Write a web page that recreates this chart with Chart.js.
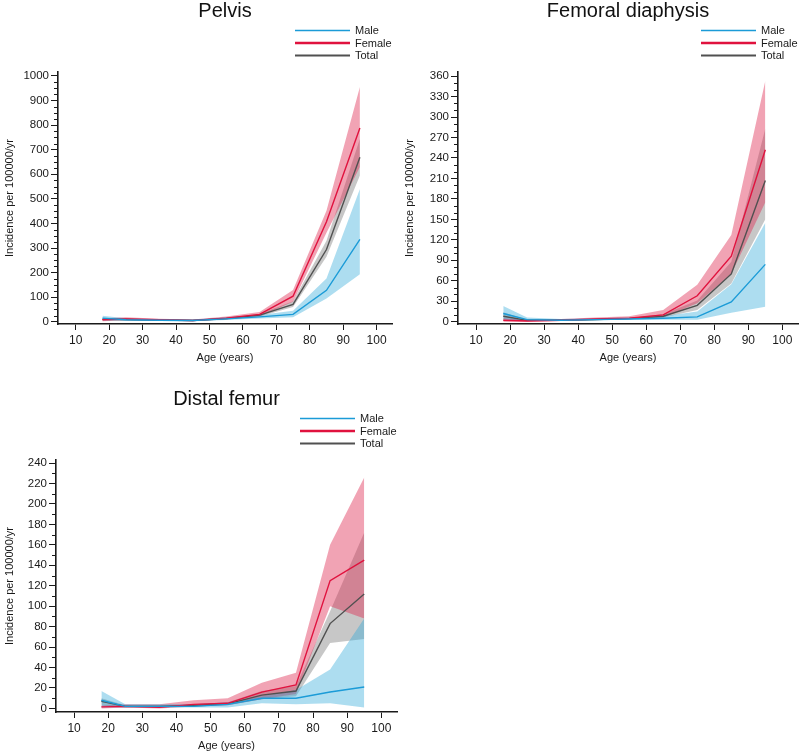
<!DOCTYPE html>
<html>
<head>
<meta charset="utf-8">
<script src="https://cdn.jsdelivr.net/npm/chart.js@4.4.1/dist/chart.umd.min.js"></script>
<style>
html,body{margin:0;padding:0;background:#fff;overflow:hidden;width:800px;height:753px;}
.panel{position:absolute;width:400px;height:365px;}
</style>
</head>
<body>
<div class="panel" style="left:0;top:0"><canvas id="c1"></canvas></div>
<div class="panel" style="left:400px;top:0"><canvas id="c2"></canvas></div>
<div class="panel" style="left:0;top:388px"><canvas id="c3"></canvas></div>
<script>
// ---------- data ----------
const ages = [18, 25, 35, 45, 55, 65, 75, 85, 95];
const xTicks = [10, 20, 30, 40, 50, 60, 70, 80, 90, 100];
const seriesNames = ['Male', 'Female', 'Total'];

const pelvisTitle = 'Pelvis';
const pelvisYTicks = [0, 100, 200, 300, 400, 500, 600, 700, 800, 900, 1000];
const pelvisMale     = [15, 8, 6, 5, 12, 20, 30, 128, 335];
const pelvisMaleLo   = [5, 4, 3, 2, 7, 13, 18, 95, 193];
const pelvisMaleHi   = [25, 14, 10, 9, 18, 28, 45, 176, 540];
const pelvisFemale   = [8, 12, 8, 5, 15, 30, 104, 407, 788];
const pelvisFemaleLo = [2, 6, 4, 2, 9, 22, 82, 362, 630];
const pelvisFemaleHi = [14, 18, 12, 9, 22, 40, 129, 452, 955];
const pelvisTotal    = [10, 9, 7, 5, 13, 27, 71, 294, 669];
const pelvisTotalLo  = [6, 6, 5, 3, 10, 22, 60, 265, 595];
const pelvisTotalHi  = [15, 12, 9, 7, 17, 32, 84, 330, 745];

const femTitle = 'Femoral diaphysis';
const femYTicks = [0, 30, 60, 90, 120, 150, 180, 210, 240, 270, 300, 330, 360];
const femMale     = [12, 3, 2, 3, 4, 5, 7, 29, 84];
const femMaleLo   = [3, 1, 1, 2, 3, 3, 3, 13, 22];
const femMaleHi   = [23, 6, 4, 5, 6, 8, 15, 55, 145];
const femFemale   = [2, 1, 2, 4, 5, 10, 38, 96, 252];
const femFemaleLo = [0, 0, 1, 3, 4, 6, 27, 70, 175];
const femFemaleHi = [5, 3, 4, 6, 8, 17, 54, 127, 353];
const femTotal    = [8, 2, 2, 3, 4.5, 8, 24, 70, 207];
const femTotalLo  = [4, 1, 1, 2, 3.5, 6, 17, 56, 150];
const femTotalHi  = [14, 3, 3, 4, 5.5, 11, 31, 88, 283];

const distTitle = 'Distal femur';
const distYTicks = [0, 20, 40, 60, 80, 100, 120, 140, 160, 180, 200, 220, 240];
const distMale     = [8, 2, 2, 2, 4, 10, 10, 16, 21];
const distMaleLo   = [1, 1, 1, 1, 1, 5, 4, 5, 1];
const distMaleHi   = [17, 4, 4, 4, 6, 12, 18, 38, 88];
const distFemale   = [1.5, 2, 1, 4, 5, 16, 23, 125, 145];
const distFemaleLo = [0, 1, 0, 2, 3, 9, 14, 100, 88];
const distFemaleHi = [3, 4, 4, 8, 10, 25, 35, 160, 226];
const distTotal    = [7, 2, 2, 3, 4.5, 13, 17, 83, 112];
const distTotalLo  = [3, 1, 1, 2, 3, 9, 12, 64, 68];
const distTotalHi  = [10, 3, 3, 4, 6, 17, 22, 95, 172];

// ---------- styles ----------
const FONT = '"Liberation Sans", Arial, Helvetica, sans-serif';
const TEXT = '#1a1a1a';
const AXIS = '#1a1a1a';
const lineColors = ['#1b9bd7', '#e0123e', '#505050'];
const bandColors = ['rgba(40,165,215,0.38)', 'rgba(222,45,85,0.44)', 'rgba(70,70,70,0.30)'];
const legendWidths = [1.5, 2.6, 2];

const pts = arr => ages.map((a, i) => ({x: a, y: arr[i]}));

function buildDatasets(groups) {
  const ds = [];
  groups.forEach((g, k) => {
    ds.push({label: seriesNames[k] + ' upper', data: pts(g[2]), fill: '+1', backgroundColor: bandColors[k],
      borderWidth: 0, pointRadius: 0, order: 2});
    ds.push({label: seriesNames[k] + ' lower', data: pts(g[1]), fill: false,
      borderWidth: 0, pointRadius: 0, order: 2});
  });
  groups.forEach((g, k) => {
    ds.push({label: seriesNames[k], data: pts(g[0]), fill: false, borderColor: lineColors[k],
      borderWidth: 1.4, pointRadius: 0, tension: 0, order: 1});
  });
  return ds;
}

const decorPlugin = {
  id: 'decor',
  afterDraw(chart, args, opts) {
    const {ctx, chartArea} = chart;
    const ys = chart.scales.y;
    ctx.save();
    // minor ticks on y axis
    ctx.strokeStyle = AXIS;
    ctx.lineWidth = 1;
    const step = opts.minorStep;
    for (let v = 0; v <= ys.max; v += step) {
      if (opts.majors.includes(v)) continue;
      const py = Math.round(ys.getPixelForValue(v)) + 0.5;
      ctx.beginPath();
      ctx.moveTo(chartArea.left - 4, py);
      ctx.lineTo(chartArea.left, py);
      ctx.stroke();
    }
    // legend
    ctx.font = '11px ' + FONT;
    ctx.textBaseline = 'middle';
    ctx.textAlign = 'left';
    const offs = [-41.5, -29, -16.6];
    seriesNames.forEach((name, i) => {
      const y = chartArea.top + offs[i];
      ctx.strokeStyle = lineColors[i];
      ctx.lineWidth = legendWidths[i];
      ctx.beginPath();
      ctx.moveTo(chartArea.right - 97, y);
      ctx.lineTo(chartArea.right - 42, y);
      ctx.stroke();
      ctx.fillStyle = TEXT;
      ctx.fillText(name, chartArea.right - 37, y + 0.5);
    });
    ctx.restore();
  }
};

function makeChart(id, title, groups, yTicks, yMin, yMax, minorStep, yAxisWidth, padRight) {
  new Chart(document.getElementById(id), {
    type: 'line',
    data: {datasets: buildDatasets(groups)},
    plugins: [decorPlugin],
    options: {
      responsive: true,
      maintainAspectRatio: false,
      animation: false,
      events: [],
      layout: {padding: {left: 0, right: padRight, top: 0, bottom: 0}},
      plugins: {
        legend: {display: false},
        tooltip: {enabled: false},
        title: {
          display: true, text: title, fullSize: false, color: '#111',
          font: {family: FONT, size: 20, weight: 'normal', lineHeight: 0.85},
          padding: {top: 3, bottom: 52}
        },
        decor: {minorStep: minorStep, majors: yTicks}
      },
      scales: {
        x: {
          type: 'linear', min: 4.7, max: 104.6,
          afterBuildTicks: s => { s.ticks = xTicks.map(v => ({value: v})); },
          afterFit: s => { s.height = 41; },
          border: {display: true, color: AXIS, width: 1.6},
          grid: {display: true, drawOnChartArea: false, drawTicks: true, tickLength: 6, tickColor: AXIS, tickWidth: 1},
          ticks: {color: TEXT, font: {family: FONT, size: 12}, padding: 3, maxRotation: 0, autoSkip: false,
            callback: v => String(v)},
          title: {display: true, text: 'Age (years)', color: TEXT, font: {family: FONT, size: 11}, padding: {top: 0, bottom: 0}}
        },
        y: {
          type: 'linear', min: yMin, max: yMax,
          afterBuildTicks: s => { s.ticks = yTicks.map(v => ({value: v})); },
          afterFit: s => { s.width = yAxisWidth; },
          border: {display: true, color: AXIS, width: 1.6},
          grid: {display: true, drawOnChartArea: false, drawTicks: true, tickLength: 7, tickColor: AXIS, tickWidth: 1},
          ticks: {color: TEXT, font: {family: FONT, size: 11.5}, padding: 2, autoSkip: false,
            callback: v => String(v)},
          title: {display: true, text: 'Incidence per 100000/yr', color: TEXT, font: {family: FONT, size: 11},
            padding: {top: 3, bottom: 0}}
        }
      }
    }
  });
}

makeChart('c1', pelvisTitle, [
  [pelvisMale, pelvisMaleLo, pelvisMaleHi],
  [pelvisFemale, pelvisFemaleLo, pelvisFemaleHi],
  [pelvisTotal, pelvisTotalLo, pelvisTotalHi]
], pelvisYTicks, -9, 1016, 25, 58, 8);

makeChart('c2', femTitle, [
  [femMale, femMaleLo, femMaleHi],
  [femFemale, femFemaleLo, femFemaleHi],
  [femTotal, femTotalLo, femTotalHi]
], femYTicks, -3.4, 366, 10, 58, 2);

makeChart('c3', distTitle, [
  [distMale, distMaleLo, distMaleHi],
  [distFemale, distFemaleLo, distFemaleHi],
  [distTotal, distTotalLo, distTotalHi]
], distYTicks, -3.5, 243, 10, 56, 3);
</script>
</body>
</html>
